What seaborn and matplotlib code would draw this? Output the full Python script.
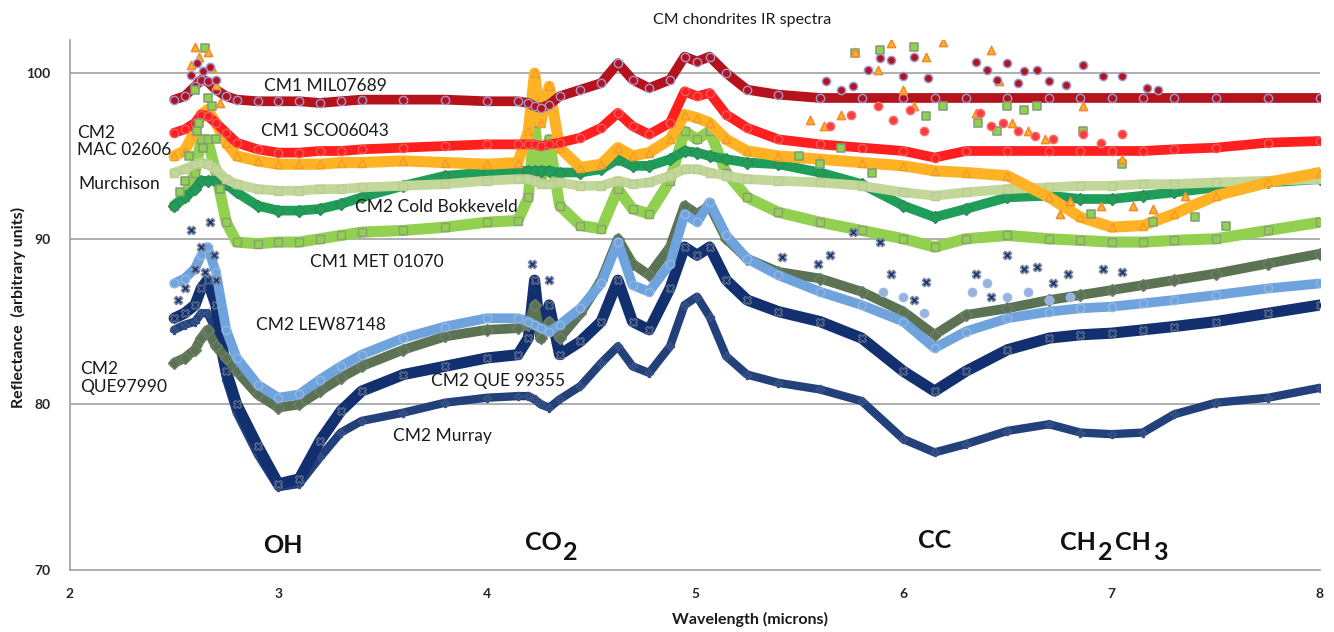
import matplotlib
matplotlib.use("Agg")
import matplotlib.pyplot as plt
import seaborn as sns
import pandas as pd

# wavelength sample points (microns) shared by all spectra
wavelength = [2.50, 2.55, 2.60, 2.63, 2.66, 2.70, 2.75, 2.80, 2.90, 3.00,
              3.10, 3.20, 3.30, 3.40, 3.60, 3.80, 4.00, 4.15, 4.20, 4.23,
              4.26, 4.30, 4.35, 4.45, 4.55, 4.63, 4.70, 4.78, 4.88, 4.95,
              5.01, 5.07, 5.15, 5.25, 5.40, 5.60, 5.80, 6.00, 6.15, 6.30,
              6.50, 6.70, 6.85, 7.00, 7.15, 7.30, 7.50, 7.75, 8.00]

mil07689 = [98.4, 98.6, 99.2, 99.6, 99.5, 99.0, 98.6, 98.4, 98.3, 98.3,
            98.3, 98.2, 98.3, 98.4, 98.4, 98.4, 98.3, 98.3, 98.2, 98.0,
            97.9, 98.1, 98.6, 99.0, 99.4, 100.6, 99.6, 99.1, 99.6, 101.0,
            100.7, 101.0, 100.0, 99.0, 98.7, 98.5, 98.5, 98.5, 98.5, 98.5,
            98.5, 98.5, 98.5, 98.5, 98.5, 98.5, 98.5, 98.5, 98.5]
sco06043 = [96.4, 96.6, 97.0, 97.5, 97.4, 97.0, 96.4, 95.8, 95.4, 95.2,
            95.2, 95.3, 95.3, 95.4, 95.5, 95.6, 95.7, 95.7, 95.7, 95.7,
            95.6, 95.7, 95.8, 96.1, 96.7, 97.6, 96.8, 96.3, 97.0, 98.9,
            98.6, 98.8, 97.5, 96.7, 96.0, 95.7, 95.5, 95.3, 94.9, 95.3,
            95.3, 95.3, 95.3, 95.3, 95.3, 95.4, 95.5, 95.8, 95.9]
mac02606 = [95.0, 95.3, 96.5, 97.5, 97.8, 97.0, 95.8, 95.0, 94.7, 94.5,
            94.5, 94.5, 94.6, 94.6, 94.7, 94.6, 94.5, 94.6, 96.5, 100.0,
            97.0, 99.2, 95.5, 94.3, 94.5, 95.5, 95.0, 95.2, 96.0, 97.5,
            97.3, 97.0, 96.0, 95.3, 95.0, 94.8, 94.6, 94.4, 94.1, 94.0,
            93.8, 92.5, 91.3, 90.7, 90.8, 91.5, 92.6, 93.4, 94.0]
murchison = [94.0, 94.2, 94.5, 94.6, 94.5, 94.2, 93.6, 93.3, 93.0, 92.9,
             92.9, 93.0, 93.0, 93.1, 93.2, 93.3, 93.5, 93.6, 93.6, 93.5,
             93.3, 93.3, 93.4, 93.2, 93.2, 93.5, 93.3, 93.4, 93.8, 94.2,
             94.2, 94.0, 93.8, 93.6, 93.5, 93.4, 93.2, 92.8, 92.6, 92.8,
             93.0, 93.1, 93.2, 93.2, 93.3, 93.3, 93.4, 93.5, 93.6]
cold_bokkeveld = [92.0, 92.5, 93.0, 93.5, 93.5, 93.5, 93.3, 92.8, 92.0, 91.7,
                  91.7, 91.8, 92.1, 92.5, 93.2, 93.8, 94.0, 94.1, 94.1, 94.1,
                  94.1, 94.1, 94.0, 94.0, 94.2, 94.8, 94.4, 94.4, 94.8, 95.3,
                  95.2, 95.0, 94.8, 94.6, 94.5, 94.0, 93.3, 92.0, 91.3, 91.8,
                  92.5, 92.6, 92.4, 92.4, 92.6, 92.8, 93.1, 93.4, 93.6]
met01070 = [92.0, 92.5, 94.0, 96.0, 96.0, 94.0, 91.0, 89.8, 89.7, 89.8,
            89.8, 90.0, 90.2, 90.4, 90.5, 90.7, 91.0, 91.1, 92.5, 97.0,
            93.5, 96.0, 92.0, 90.8, 90.6, 93.0, 91.8, 91.5, 93.5, 96.5,
            96.0, 96.5, 94.0, 92.5, 91.6, 91.0, 90.5, 90.0, 89.5, 90.0,
            90.2, 90.0, 89.9, 89.8, 89.8, 89.9, 90.0, 90.5, 91.0]
que97990 = [82.5, 82.8, 83.3, 84.0, 84.5, 83.5, 82.8, 82.0, 80.6, 79.8,
            80.0, 80.8, 81.6, 82.3, 83.3, 84.1, 84.5, 84.6, 84.8, 86.0,
            84.0, 85.0, 84.0, 85.5, 87.5, 90.0, 88.5, 87.8, 89.5, 92.0,
            91.5, 92.0, 90.0, 88.8, 88.0, 87.6, 86.8, 85.6, 84.2, 85.4,
            85.8, 86.3, 86.6, 86.9, 87.2, 87.5, 87.9, 88.5, 89.1]
lew87148 = [87.3, 87.6, 88.2, 89.0, 89.5, 88.0, 84.5, 82.8, 81.2, 80.4,
            80.6, 81.5, 82.3, 83.0, 84.0, 84.7, 85.2, 85.2, 85.0, 84.8,
            84.6, 84.4, 84.8, 85.8, 87.3, 89.8, 87.2, 86.8, 88.5, 91.5,
            91.0, 92.2, 90.2, 88.8, 87.8, 86.8, 86.0, 85.0, 83.4, 84.4,
            85.2, 85.6, 85.8, 85.9, 86.1, 86.3, 86.6, 87.0, 87.3]
que99355 = [85.2, 85.5, 86.0, 87.0, 87.5, 86.0, 82.0, 80.0, 77.5, 75.2,
            75.5, 77.8, 79.6, 80.8, 81.8, 82.3, 82.8, 83.0, 84.0, 87.5,
            84.0, 86.0, 83.0, 83.8, 85.0, 87.5, 85.0, 84.5, 87.0, 89.5,
            89.0, 89.5, 87.5, 86.3, 85.6, 85.0, 84.0, 82.0, 80.8, 82.0,
            83.3, 84.0, 84.2, 84.3, 84.5, 84.7, 85.0, 85.5, 86.0]
murray = [84.5, 84.8, 85.0, 85.5, 85.5, 84.5, 81.5, 79.5, 77.0, 75.0,
          75.2, 76.8, 78.3, 79.0, 79.5, 80.1, 80.4, 80.5, 80.5, 80.3,
          80.0, 79.8, 80.3, 81.1, 82.5, 83.5, 82.3, 81.9, 83.5, 86.0,
          86.5, 85.3, 82.9, 81.8, 81.3, 80.9, 80.2, 77.9, 77.1, 77.6,
          78.4, 78.8, 78.3, 78.2, 78.3, 79.4, 80.1, 80.4, 81.0]

# isolated noisy points
mil_spike_x = [2.58, 2.61, 2.64, 2.67, 2.70, 5.63, 5.70, 5.76, 5.83, 5.89,
               5.94, 6.00, 6.05, 6.12, 6.35, 6.40, 6.45, 6.50, 6.55, 6.58,
               6.64, 6.70, 6.78, 6.86, 6.96, 7.05, 7.17, 7.22]
mil_spike_y = [99.9, 100.6, 100.1, 100.4, 99.6, 99.5, 99.0, 99.2, 100.2, 100.9,
               100.8, 99.8, 101.0, 99.7, 100.7, 100.2, 99.6, 100.6, 99.4, 100.1,
               100.2, 99.5, 99.3, 100.5, 99.8, 99.8, 99.1, 99.0]
sco_spike_x = [5.65, 5.75, 5.88, 5.95, 6.03, 6.10, 6.37, 6.42, 6.48, 6.55,
               6.63, 6.72, 6.86, 6.95, 7.05]
sco_spike_y = [96.8, 97.5, 98.0, 97.2, 97.8, 96.5, 97.6, 96.8, 97.0, 96.5,
               96.2, 96.0, 96.3, 95.8, 96.3]
mac_spike_x = [2.58, 2.60, 2.62, 2.66, 2.68, 2.70, 2.72, 5.55, 5.62, 5.70,
               5.77, 5.88, 5.94, 6.00, 6.05, 6.11, 6.19, 6.35, 6.42, 6.46,
               6.52, 6.60, 6.68, 6.86, 7.05, 6.75, 6.80, 6.95, 7.10, 7.20,
               7.35]
mac_spike_y = [100.5, 101.6, 101.0, 101.3, 100.3, 99.3, 98.2, 97.2, 96.8, 97.5,
               101.3, 100.2, 101.8, 99.0, 98.0, 101.0, 101.9, 97.6, 101.4, 99.5,
               97.0, 96.5, 96.0, 98.0, 94.8, 91.5, 92.3, 92.0, 92.0, 91.8,
               92.6]
met_spike_x = [2.53, 2.55, 2.57, 2.60, 2.61, 2.62, 2.64, 2.65, 2.66, 2.68,
               2.70, 2.72, 5.50, 5.60, 5.70, 5.77, 5.85, 5.89, 6.05, 6.11,
               6.19, 6.36, 6.45, 6.50, 6.58, 6.64, 6.86, 7.05, 6.90, 7.20,
               7.40, 7.55]
met_spike_y = [92.8, 93.5, 95.0, 99.0, 96.5, 97.0, 95.5, 101.5, 98.5, 98.0,
               96.0, 93.0, 95.0, 94.5, 95.5, 101.2, 94.0, 101.4, 101.6, 97.4,
               98.0, 97.0, 96.5, 98.0, 97.8, 98.0, 96.5, 94.5, 91.5, 91.0,
               91.3, 90.8]
lew_spike_x = [5.90, 6.00, 6.10, 6.33, 6.40, 6.50, 6.60, 6.70, 6.80]
lew_spike_y = [86.8, 86.5, 85.5, 86.8, 87.3, 86.5, 86.8, 86.3, 86.5]
que_spike_x = [2.52, 2.55, 2.58, 2.60, 2.63, 2.65, 2.67, 2.69, 2.70, 4.22,
               4.30, 5.42, 5.59, 5.65, 5.76, 5.89, 5.94, 6.05, 6.11, 6.35,
               6.42, 6.50, 6.58, 6.64, 6.72, 6.79, 6.96, 7.05]
que_spike_y = [86.3, 87.0, 90.5, 88.2, 89.5, 88.0, 91.0, 89.0, 87.5, 88.5,
               87.5, 88.9, 88.5, 89.0, 90.4, 89.8, 87.9, 86.3, 87.4, 87.9,
               86.5, 89.0, 88.2, 88.3, 87.3, 87.9, 88.2, 88.0]

sns.set_style("white")
plt.rcParams["font.family"] = ["Lato", "DejaVu Sans"]

fig = plt.figure(figsize=(13.34, 6.32), dpi=100)
ax = fig.add_axes([70 / 1334, 62 / 632, 1250 / 1334, 530 / 632])

# (values, line colour, marker, marker edge, line width), bottom to top
series = [
    (murray, "#22407A", "P", "#3A5488", 6),
    (que99355, "#12306F", "X", "#5A6A8A", 8),
    (que97990, "#5B7352", "D", "#6E7E6A", 7),
    (lew87148, "#6FA3DE", "o", "#93B6E2", 7),
    (met01070, "#92D050", "s", "#8C9E78", 8),
    (cold_bokkeveld, "#1F9E5A", "D", "#2A8C55", 7),
    (murchison, "#C4D79B", "s", "#B9CC92", 7),
    (mac02606, "#FFB224", "^", "#F09A2A", 8),
    (sco06043, "#FF1F1F", "o", "#F05A5A", 7),
    (mil07689, "#B5121B", "o", "#9A9BD4", 7),
]
for vals, col, mk, edge, lw in series:
    df = pd.DataFrame({"wavelength": wavelength, "reflectance": vals})
    sns.lineplot(data=df, x="wavelength", y="reflectance", ax=ax, color=col,
                 linewidth=lw, marker=mk, markersize=6, markerfacecolor=col,
                 markeredgecolor=edge, markeredgewidth=1.0, estimator=None,
                 sort=False, solid_capstyle="round", solid_joinstyle="round")

spikes = [
    (que_spike_x, que_spike_y, "X", "#12306F", "#7A879E"),
    (lew_spike_x, lew_spike_y, "o", "#8FB4E6", "#A8B8D8"),
    (met_spike_x, met_spike_y, "s", "#92D050", "#7F9C78"),
    (mac_spike_x, mac_spike_y, "^", "#FFB224", "#F08A30"),
    (sco_spike_x, sco_spike_y, "o", "#FF3A3A", "#F07070"),
    (mil_spike_x, mil_spike_y, "o", "#B5121B", "#9A9BD4"),
]
for sx, sy, mk, col, edge in spikes:
    sns.scatterplot(x=sx, y=sy, ax=ax, marker=mk, s=35, color=col,
                    edgecolor=edge, linewidth=1.1, zorder=3)

ax.set_xlim(2, 8)
ax.set_ylim(70, 102)
ax.set_xticks(range(2, 9))
ax.set_yticks([70, 80, 90, 100])
ax.set_xticks([2 + i / 10 for i in range(61)], minor=True)
ax.set_yticks(range(70, 103, 2), minor=True)
for lvl in (80, 90, 100):
    ax.axhline(lvl, color="#A8A8A8", lw=1.3, zorder=0)
for s in ("top", "right"):
    ax.spines[s].set_visible(False)
for s in ("left", "bottom"):
    ax.spines[s].set_color("#A0A0A0")
    ax.spines[s].set_linewidth(1.2)
ax.tick_params(axis="x", which="major", direction="inout", length=10, width=1.2,
               color="#A0A0A0", pad=8, labelsize=10)
ax.tick_params(axis="x", which="minor", direction="in", length=4, width=1,
               color="#A0A0A0")
ax.tick_params(axis="y", which="major", direction="out", length=6, width=1.2,
               color="#A0A0A0", pad=8, labelsize=10)
ax.tick_params(axis="y", which="minor", direction="out", length=3, width=1,
               color="#A0A0A0")
for lab in ax.get_xticklabels() + ax.get_yticklabels():
    lab.set_fontweight("bold")
ax.set_xlabel("")
ax.set_ylabel("")

# sample labels
lbl = dict(fontsize=12.5, color="#1A1A1A")
ax.text(3.224, 99.2, "CM1 MIL07689", ha="center", va="center", **lbl)
ax.text(3.224, 96.5, "CM1 SCO06043", ha="center", va="center", **lbl)
ax.text(2.034, 95.86, "CM2\nMAC 02606", ha="left", va="center", linespacing=1.05, **lbl)
ax.text(2.038, 93.3, "Murchison", ha="left", va="center", **lbl)
ax.text(3.757, 91.9, "CM2 Cold Bokkeveld", ha="center", va="center", **lbl)
ax.text(3.474, 88.6, "CM1 MET 01070", ha="center", va="center", **lbl)
ax.text(3.205, 84.8, "CM2 LEW87148", ha="center", va="center", **lbl)
ax.text(2.048, 81.57, "CM2\nQUE97990", ha="left", va="center", linespacing=1.15, **lbl)
ax.text(4.055, 81.4, "CM2 QUE 99355", ha="center", va="center", **lbl)
ax.text(3.786, 78.1, "CM2 Murray", ha="center", va="center", **lbl)

# absorption band labels
big = dict(fontsize=18, fontweight="bold", color="#111111", va="baseline")
ax.text(3.02, 71.0, "OH", ha="center", **big)
ax.text(4.184, 71.2, "CO", ha="left", **big)
ax.text(4.367, 70.6, "2", ha="left", **big)
ax.text(6.15, 71.3, "CC", ha="center", **big)
ax.text(6.753, 71.2, "CH", ha="left", **big)
ax.text(6.935, 70.6, "2", ha="left", **big)
ax.text(7.017, 71.2, "CH", ha="left", **big)
ax.text(7.199, 70.6, "3", ha="left", **big)

fig.text(742 / 1334, 1 - 20 / 632, "CM chondrites IR spectra", ha="center",
         va="center", fontsize=11.5, color="#1A1A1A")
fig.text(750 / 1334, 1 - 619 / 632, "Wavelength (microns)", ha="center",
         va="center", fontsize=11.5, fontweight="bold", color="#1A1A1A")
fig.text(18 / 1334, 1 - 307 / 632, "Reflectance  (arbitrary units)", ha="center",
         va="center", rotation=90, fontsize=11.5, fontweight="bold", color="#1A1A1A")

fig.savefig("out.png", dpi=100)
